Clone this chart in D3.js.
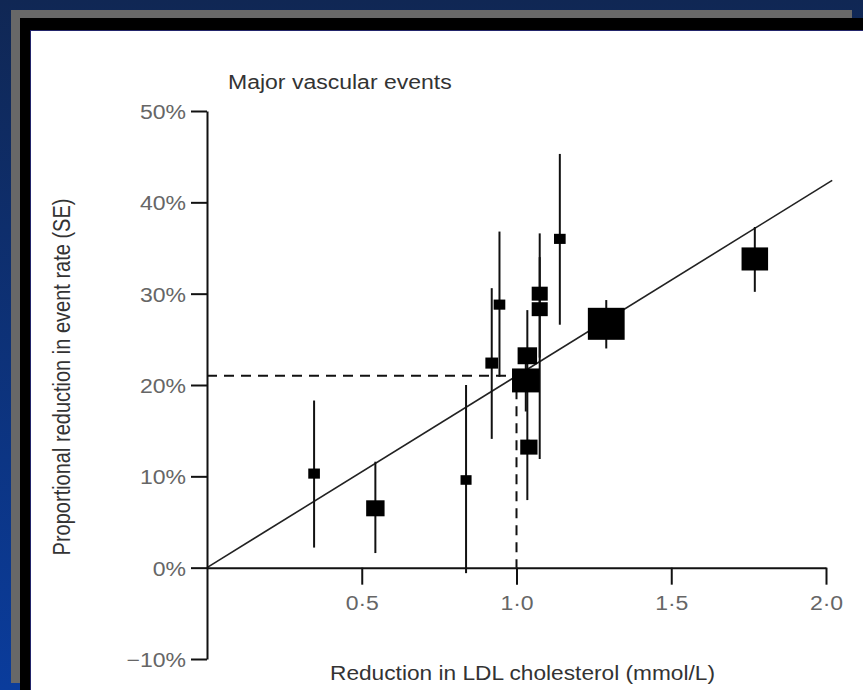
<!DOCTYPE html>
<html>
<head>
<meta charset="utf-8">
<script src="https://cdn.jsdelivr.net/npm/d3@7"></script>
<style>
  body { margin: 0; background: #0f2859; }
  svg { display: block; }
  text { font-family: "Liberation Sans", Arial, sans-serif; }
</style>
</head>
<body>
<div id="chart"></div>
<script>
const W = 863;
const H = 690;

// Trials: reduction in LDL cholesterol (mmol/L) vs proportional reduction in event rate (%)
const ldlReduction   = [0.346, 0.544, 0.837, 0.92, 0.945, 1.035, 1.03, 1.04, 1.075, 1.075, 1.14, 1.29, 1.77];
const eventReduction = [10.3,  6.5,   9.6,   22.4, 28.8,  23.2,  20.5, 13.2, 30.0,  28.3,  36.0, 26.7, 33.8];
const ciLower        = [2.2,   1.6,   -0.6,  14.1, 20.9,  7.4,   17.1, 12.5, 23.0,  11.9,  26.6, 24.0, 30.2];
const ciUpper        = [18.3,  11.6,  20.0,  30.6, 36.8,  28.2,  23.5, 14.0, 36.6,  34.0,  45.3, 29.3, 37.3];
// relative weight of each trial (drives the square size)
const trialWeight    = [10,    25,    9,     12,   10,    28,    56,   22,   19,    19,    10,   100,  52];

// fitted line (22 % per mmol/L, roughly) and the 1 mmol/L reference
const fitX = [0, 2.02];
const fitY = [0, 42.4];
const refLdl = 1.0;
const refEvent = 21;

const xTicks = [0.5, 1.0, 1.5, 2.0];
const yTicks = [-10, 0, 10, 20, 30, 40, 50];

const titleText = 'Major vascular events';
const xLabel = 'Reduction in LDL cholesterol (mmol/L)';
const yLabel = 'Proportional reduction in event rate (SE)';

// the source picture is stretched horizontally a little
const hStretch = 1.15;

const data = ldlReduction.map((d, i) => ({
  ldl: d,
  ev: eventReduction[i],
  lo: ciLower[i],
  hi: ciUpper[i],
  w: trialWeight[i]
}));

const svg = d3.select('#chart')
  .append('svg')
  .attr('width', W)
  .attr('height', H);

// Slide frame: navy background, gray and black borders, white panel
const grad = svg.append('defs').append('linearGradient')
  .attr('id', 'navy')
  .attr('x1', 0).attr('y1', 0).attr('x2', 0).attr('y2', 1);
grad.append('stop').attr('offset', '0%').attr('stop-color', '#102754');
grad.append('stop').attr('offset', '100%').attr('stop-color', '#0a3c9c');

svg.append('rect').attr('width', W).attr('height', H).attr('fill', 'url(#navy)');
svg.append('rect').attr('x', 11).attr('y', 10).attr('width', 841).attr('height', 673).attr('fill', '#686868');
svg.append('rect').attr('x', 20).attr('y', 18).attr('width', W - 20).attr('height', H - 18).attr('fill', '#000');
svg.append('rect').attr('x', 30).attr('y', 30).attr('width', W - 30).attr('height', H - 30).attr('fill', '#22246a');
svg.append('rect').attr('x', 31).attr('y', 31).attr('width', W - 31).attr('height', H - 31).attr('fill', '#fff');

// Scales
const x = d3.scaleLinear().domain([0, 2]).range([207, 826]);
const y = d3.scaleLinear().domain([-10, 50]).range([659, 111]);
const size = d3.scaleSqrt().domain([0, d3.max(trialWeight)]).range([0, 32]);

function stretch(sel, k) {
  sel.each(function () {
    const len = this.getComputedTextLength();
    d3.select(this)
      .attr('textLength', len * k)
      .attr('lengthAdjust', 'spacingAndGlyphs');
  });
}

// Dashed reference lines at 1 mmol/L
svg.append('path')
  .attr('d', d3.line()([[x(0), y(refEvent)], [x(refLdl), y(refEvent)], [x(refLdl), y(0)]]))
  .attr('fill', 'none')
  .attr('stroke', '#111')
  .attr('stroke-width', 2)
  .attr('stroke-dasharray', '10,7');

// Fitted line
svg.append('path')
  .datum(fitX.map((d, i) => [d, fitY[i]]))
  .attr('d', d3.line().x(d => x(d[0])).y(d => y(d[1])))
  .attr('fill', 'none')
  .attr('stroke', '#222')
  .attr('stroke-width', 1.6);

// Error bars
svg.selectAll('.ci')
  .data(data)
  .enter()
  .append('line')
  .attr('class', 'ci')
  .attr('x1', d => x(d.ldl))
  .attr('x2', d => x(d.ldl))
  .attr('y1', d => y(d.hi))
  .attr('y2', d => y(d.lo))
  .attr('stroke', '#111')
  .attr('stroke-width', 2);

// Squares sized by weight
svg.selectAll('.pt')
  .data(data)
  .enter()
  .append('rect')
  .attr('class', 'pt')
  .attr('x', d => x(d.ldl) - size(d.w) * hStretch / 2)
  .attr('y', d => y(d.ev) - size(d.w) / 2)
  .attr('width', d => size(d.w) * hStretch)
  .attr('height', d => size(d.w))
  .attr('fill', '#000');

// Axes
const fmtX = d3.format('.1f');
const yAxis = d3.axisLeft(y)
  .tickValues(yTicks)
  .tickSize(16)
  .tickSizeOuter(0)
  .tickPadding(5)
  .tickFormat(d => (d < 0 ? '\u2212' : '') + Math.abs(d) + '%');

const xAxis = d3.axisBottom(x)
  .tickValues(xTicks)
  .tickSize(17)
  .tickSizeOuter(0)
  .tickPadding(11)
  .tickFormat(d => fmtX(d).replace('.', '\u00b7'));

const gy = svg.append('g')
  .attr('transform', 'translate(' + x(0) + ',0)')
  .call(yAxis);

const gx = svg.append('g')
  .attr('transform', 'translate(0,' + y(0) + ')')
  .call(xAxis);

[gx, gy].forEach(g => {
  g.attr('font-family', null).attr('font-size', null);
  g.select('.domain').attr('stroke', '#111').attr('stroke-width', 2);
  g.selectAll('.tick line').attr('stroke', '#111').attr('stroke-width', 2);
  g.selectAll('.tick text')
    .attr('font-size', 20)
    .attr('fill', '#666');
});
gy.selectAll('.tick text').attr('dy', '0.38em');
stretch(gx.selectAll('.tick text'), hStretch);
stretch(gy.selectAll('.tick text'), hStretch);

// Titles
const title = svg.append('text')
  .attr('x', 228)
  .attr('y', 89)
  .attr('font-size', 20)
  .attr('fill', '#333')
  .text(titleText);
stretch(title, hStretch);

const xt = svg.append('text')
  .attr('x', 330)
  .attr('y', 680)
  .attr('font-size', 21)
  .attr('fill', '#333')
  .text(xLabel);
xt.attr('textLength', 385).attr('lengthAdjust', 'spacingAndGlyphs');

svg.append('text')
  .attr('transform', 'translate(70,377) scale(' + hStretch + ',1) rotate(-90)')
  .attr('text-anchor', 'middle')
  .attr('font-size', 20)
  .attr('fill', '#333')
  .text(yLabel);
</script>
</body>
</html>
